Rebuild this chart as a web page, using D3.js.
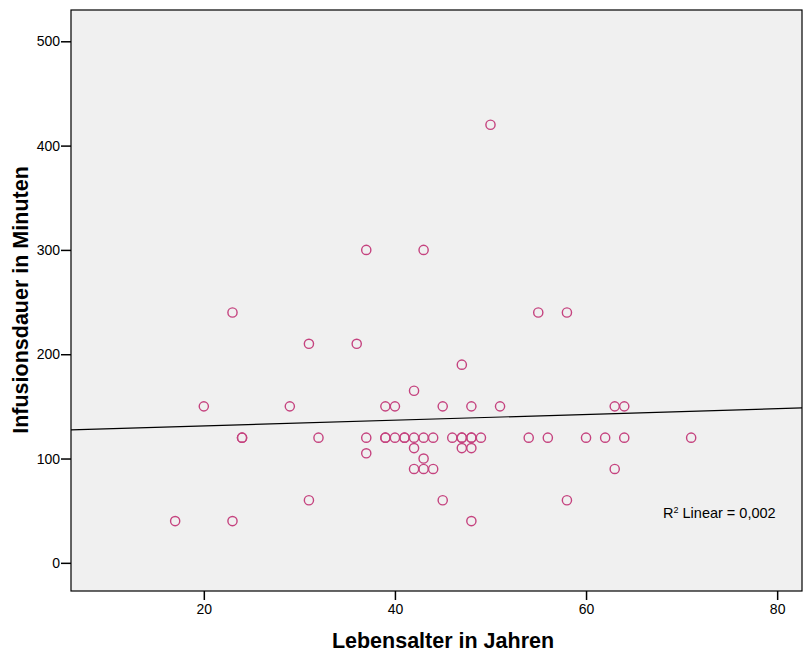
<!DOCTYPE html>
<html>
<head>
<meta charset="utf-8">
<script src="https://cdn.jsdelivr.net/npm/d3@7"></script>
<style>
  body { margin: 0; background: #fff; }
  svg { font-family: 'Liberation Sans', Arial, sans-serif; }
  .tick text { font-size: 14px; fill: #000; }
</style>
</head>
<body>
<svg class="canvas" width="803" height="652"></svg>
<script>
// Lebensalter (years) and Infusionsdauer (minutes)
const ages = [
  17, 20, 23, 23, 24, 24, 29, 31, 31, 32, 36, 37, 37, 37,
  39, 39, 39, 40, 40, 41, 41, 42, 42, 42, 42, 43, 43, 43, 43,
  44, 44, 45, 45, 46, 47, 47, 47, 47, 48, 48, 48, 48, 48, 49,
  50, 51, 54, 55, 56, 58, 58, 60, 62, 63, 63, 64, 64, 71,
];
const minutes = [
  40, 150, 240, 40, 120, 120, 150, 210, 60, 120, 210, 300, 120, 105,
  150, 120, 120, 120, 150, 120, 120, 120, 165, 110, 90, 300, 120, 100, 90,
  120, 90, 150, 60, 120, 190, 120, 120, 110, 150, 120, 120, 110, 40, 120,
  420, 150, 120, 240, 120, 240, 60, 120, 120, 150, 90, 150, 120, 120,
];
const yTicks = [0, 100, 200, 300, 400, 500];
const xTicks = [20, 40, 60, 80];
// fit line as drawn: intercept, slope
const fit = [125.7, 0.276];
const r2Label = '0,002';

const svg = d3.select('.canvas'),
  plot = { left: 71, top: 10, right: 802, bottom: 591 },
  x = d3.scaleLinear([6.1, 82.6], [plot.left, plot.right]),
  y = d3.scaleLinear([-27, 530], [plot.bottom, plot.top]);

svg
  .append('rect')
  .attr('x', plot.left)
  .attr('y', plot.top)
  .attr('width', plot.right - plot.left)
  .attr('height', plot.bottom - plot.top)
  .attr('fill', '#f0f0f0');

const yAxis = svg
  .append('g')
  .attr('transform', `translate(${plot.left},0)`)
  .call(d3.axisLeft(y).tickValues(yTicks).tickSize(10).tickPadding(1).tickSizeOuter(0));
yAxis.select('.domain').remove();
yAxis.selectAll('.tick line').attr('stroke', '#000').attr('stroke-width', 1.5);

const xAxis = svg
  .append('g')
  .attr('transform', `translate(0,${plot.bottom})`)
  .call(d3.axisBottom(x).tickValues(xTicks).tickSize(9).tickPadding(4).tickSizeOuter(0));
xAxis.select('.domain').remove();
xAxis.selectAll('.tick line').attr('stroke', '#000').attr('stroke-width', 1.5);

// regression line, clipped to the plot
svg
  .append('clipPath')
  .attr('id', 'clip')
  .append('rect')
  .attr('x', plot.left)
  .attr('y', plot.top)
  .attr('width', plot.right - plot.left)
  .attr('height', plot.bottom - plot.top);

const [x0, x1] = x.domain();
svg
  .append('line')
  .attr('clip-path', 'url(#clip)')
  .attr('x1', x(x0))
  .attr('y1', y(fit[0] + fit[1] * x0))
  .attr('x2', x(x1))
  .attr('y2', y(fit[0] + fit[1] * x1))
  .attr('stroke', '#000')
  .attr('stroke-width', 1.2);

svg
  .append('g')
  .selectAll('circle')
  .data(ages.map((a, i) => [a, minutes[i]]))
  .enter()
  .append('circle')
  .attr('cx', d => x(d[0]))
  .attr('cy', d => y(d[1]))
  .attr('r', 4.6)
  .attr('fill', 'none')
  .attr('stroke', '#c5437f')
  .attr('stroke-width', 1.4);

// frame
svg
  .append('rect')
  .attr('x', plot.left)
  .attr('y', plot.top)
  .attr('width', plot.right - plot.left)
  .attr('height', plot.bottom - plot.top)
  .attr('fill', 'none')
  .attr('stroke', '#000')
  .attr('stroke-width', 1.2);

const r2 = svg
  .append('text')
  .attr('x', 663)
  .attr('y', 518)
  .attr('font-size', 14.5)
  .attr('fill', '#000');
r2.append('tspan').text('R');
r2.append('tspan').attr('font-size', 9).attr('dy', -5).text('2');
r2.append('tspan').attr('dy', 5).text(' Linear = ' + r2Label);

svg
  .append('text')
  .attr('x', 443)
  .attr('y', 648)
  .attr('text-anchor', 'middle')
  .attr('font-size', 21.5)
  .attr('font-weight', 'bold')
  .text('Lebensalter in Jahren');

svg
  .append('text')
  .attr('transform', 'translate(28,300) rotate(-90)')
  .attr('text-anchor', 'middle')
  .attr('font-size', 21.5)
  .attr('font-weight', 'bold')
  .text('Infusionsdauer in Minuten');
</script>
</body>
</html>
